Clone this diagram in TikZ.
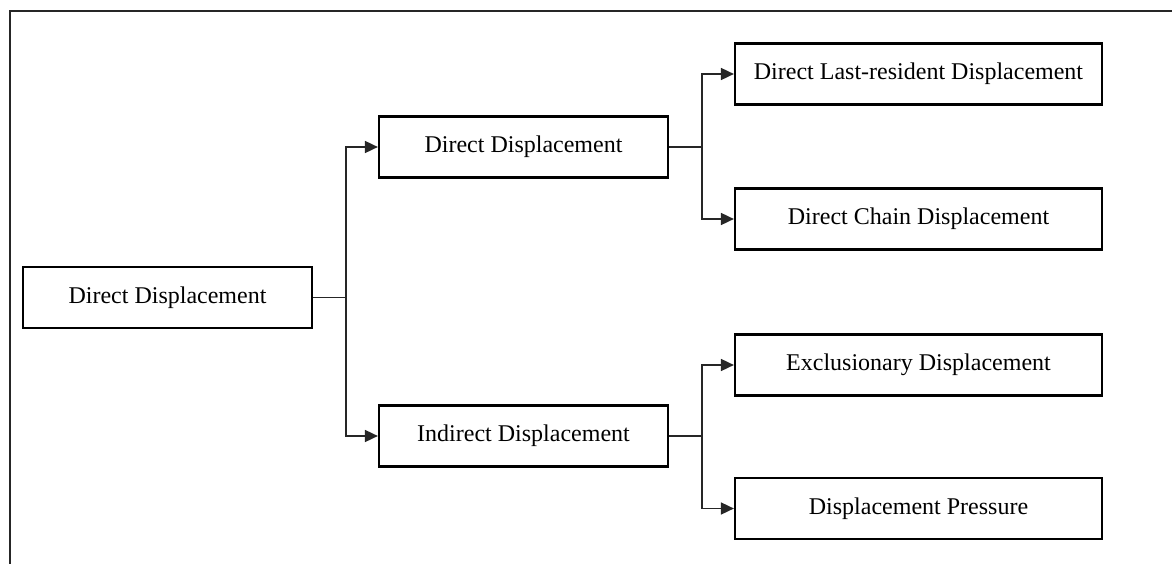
\documentclass[tikz,border=0pt]{standalone}
\usepackage{fontspec}
\setmainfont{Liberation Serif}
\usetikzlibrary{arrows.meta}
\begin{document}
\begin{tikzpicture}[x=1pt,y=-1pt,
  box/.style={draw=black,line width=2.2pt,rectangle,minimum height=61pt,inner sep=0pt,font=\fontsize{24}{28}\selectfont},
  rootbox/.style={box,minimum width=289pt},
  midbox/.style={box,minimum width=289pt},
  leafbox/.style={box,minimum width=367pt},
  conn/.style={draw=black!85,line width=1.7pt},
  arr/.style={conn,-{Triangle[length=13pt,width=12pt]}}]
\useasboundingbox (0,0) rectangle (1172,564);
\draw[line width=2pt,black!85] (10,564) -- (10,11) -- (1172,11);
\node[rootbox] (root) at (167.5,297.5) {Direct Displacement};
\node[midbox] (dd) at (523.5,147) {Direct Displacement};
\node[midbox] (id) at (523.5,436) {Indirect Displacement};
\node[leafbox] (dlr) at (918.5,74) {Direct Last-resident Displacement};
\node[leafbox] (dc) at (918.5,219) {Direct Chain Displacement};
\node[leafbox] (ex) at (918.5,365) {Exclusionary Displacement};
\node[leafbox] (dp) at (918.5,508.5) {Displacement Pressure};
\coordinate (j1) at (346,297.5);
\coordinate (j2) at (702,147);
\coordinate (j3) at (702,436);
\draw[conn] (root.east) -- (j1);
\draw[arr] (j1) |- (dd.west);
\draw[arr] (j1) |- (id.west);
\draw[conn] (dd.east) -- (j2);
\draw[arr] (j2) |- (dlr.west);
\draw[arr] (j2) |- (dc.west);
\draw[conn] (id.east) -- (j3);
\draw[arr] (j3) |- (ex.west);
\draw[arr] (j3) |- (dp.west);
\end{tikzpicture}
\end{document}
